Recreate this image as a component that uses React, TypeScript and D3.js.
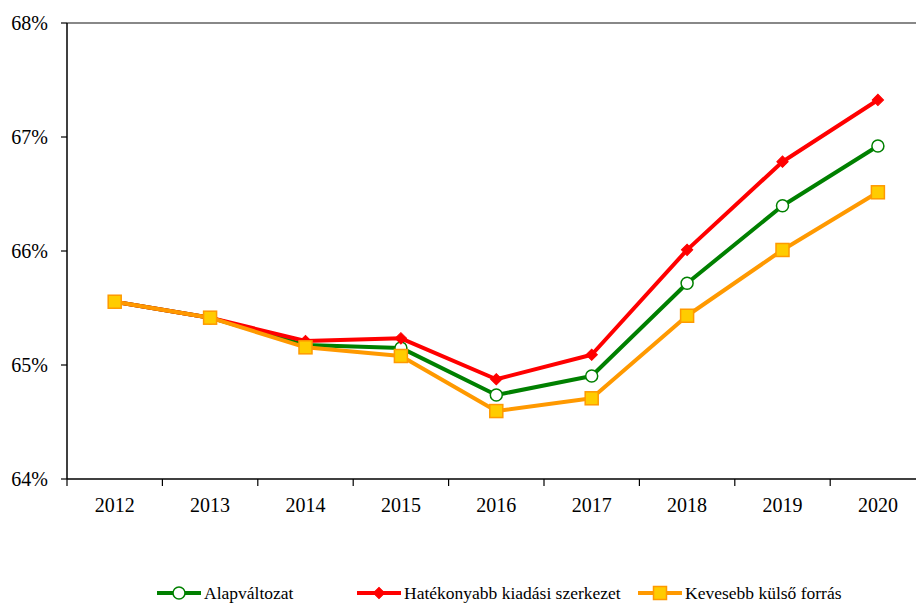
import React from "react";
import * as d3 from "d3";

const years = ["2012", "2013", "2014", "2015", "2016", "2017", "2018", "2019", "2020"];
const alap = [65.555, 65.415, 65.175, 65.15, 64.737, 64.904, 65.717, 66.397, 66.921];
const hatekony = [65.555, 65.415, 65.21, 65.234, 64.875, 65.09, 66.01, 66.783, 67.325];
const keves = [65.555, 65.415, 65.155, 65.079, 64.596, 64.708, 65.432, 66.009, 66.515];
const yTicks = [64, 65, 66, 67, 68];
const seriesNames = ["Alapváltozat", "Hatékonyabb kiadási szerkezet", "Kevesebb külső forrás"];

const W = 916;
const H = 603;
const left = 67;
const top = 23;
const bottom = 479;
const band = 95.4;

export default function App() {
  const x = d3.scaleBand<string>().domain(years).range([left, left + band * years.length]).padding(0);
  const y = d3.scaleLinear().domain([64, 68]).range([bottom, top]);
  const cx = (yr: string) => (x(yr) as number) + x.bandwidth() / 2;
  const line = d3
    .line<number>()
    .x((_, i) => cx(years[i]))
    .y((d) => y(d));
  const font = "'Liberation Serif', 'Times New Roman', serif";

  const legendY = 593;
  const legendItems = [
    { x0: 157, name: seriesNames[0], color: "#008000", kind: "circle" },
    { x0: 357, name: seriesNames[1], color: "#FF0000", kind: "diamond" },
    { x0: 638, name: seriesNames[2], color: "#FF9900", kind: "square" },
  ];

  const marker = (kind: string, px: number, py: number, key: string | number) => {
    if (kind === "circle")
      return <circle key={key} cx={px} cy={py} r={6} fill="#fff" stroke="#008000" strokeWidth={1.5} />;
    if (kind === "diamond")
      return (
        <path key={key} d={d3.symbol().type(d3.symbolSquare).size(64)() as string}
          transform={`translate(${px},${py}) rotate(45)`} fill="#FF0000" stroke="#FF0000" strokeWidth={1} />
      );
    return <rect key={key} x={px - 6.5} y={py - 6.5} width={13} height={13} fill="#FFCC00" stroke="#FF9900" strokeWidth={1.5} />;
  };

  return (
    <svg width={W} height={H} style={{ position: "absolute", left: 0, top: 0 }}>
      <rect x={0} y={0} width={W} height={H} fill="#fff" />
      <line x1={left} x2={W} y1={top} y2={top} stroke="#888" strokeWidth={2} />
      <line x1={left} x2={left} y1={top} y2={bottom} stroke="#000" strokeWidth={1.5} />
      <line x1={left} x2={W} y1={bottom} y2={bottom} stroke="#000" strokeWidth={1.5} />
      {yTicks.map((t) => (
        <g key={t}>
          <line x1={left - 6} x2={left} y1={y(t)} y2={y(t)} stroke="#000" strokeWidth={1.2} />
          <text x={48} y={y(t)} dy="0.35em" textAnchor="end" fontFamily={font} fontSize={20} fill="#000">
            {t}%
          </text>
        </g>
      ))}
      {years.map((yr) => (
        <g key={yr}>
          <line x1={x(yr) as number} x2={x(yr) as number} y1={bottom} y2={bottom + 7} stroke="#000" strokeWidth={1.2} />
          <text x={cx(yr)} y={505} dy="0.35em" textAnchor="middle" fontFamily={font} fontSize={20} fill="#000">
            {yr}
          </text>
        </g>
      ))}
      <path d={line(alap) as string} fill="none" stroke="#008000" strokeWidth={4} strokeLinejoin="round" />
      {alap.map((v, i) => marker("circle", cx(years[i]), y(v), "a" + i))}
      <path d={line(hatekony) as string} fill="none" stroke="#FF0000" strokeWidth={4} strokeLinejoin="round" />
      {hatekony.map((v, i) => marker("diamond", cx(years[i]), y(v), "h" + i))}
      <path d={line(keves) as string} fill="none" stroke="#FF9900" strokeWidth={4} strokeLinejoin="round" />
      {keves.map((v, i) => marker("square", cx(years[i]), y(v), "k" + i))}
      {legendItems.map((it, i) => (
        <g key={i}>
          <line x1={it.x0} x2={it.x0 + 44} y1={legendY} y2={legendY} stroke={it.color} strokeWidth={4} />
          {marker(it.kind, it.x0 + 22, legendY, "l" + i)}
          <text x={it.x0 + 47} y={legendY} dy="0.35em" fontFamily={font} fontSize={17.5} fill="#000">
            {it.name}
          </text>
        </g>
      ))}
    </svg>
  );
}
